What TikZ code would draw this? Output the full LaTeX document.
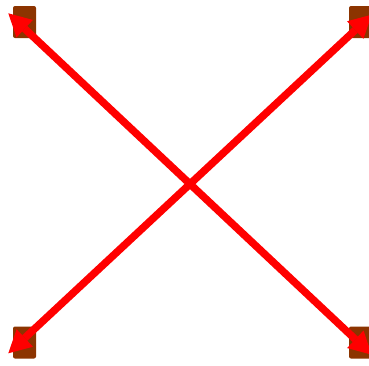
\documentclass[tikz,border=0pt]{standalone}
\usepackage{tikz}
\usetikzlibrary{arrows.meta}
\definecolor{boxbrown}{RGB}{140,52,0}

\begin{document}
\begin{tikzpicture}[x=1pt,y=-1pt,
   every node/.style={rectangle,rounded corners=2pt,fill=boxbrown,minimum width=23pt,minimum height=32pt,inner sep=0pt},
   link/.style={draw=red,line width=7.5pt,{Triangle[length=22.5pt,width=24pt,line width=0pt]}-{Triangle[length=22.5pt,width=24pt,line width=0pt]}}]
   \useasboundingbox (0,0) rectangle (369,365);
   \node (tl) at (24.5,22) {};
   \node (tr) at (360.5,22) {};
   \node (bl) at (24.5,342.5) {};
   \node (br) at (360.5,342.5) {};
   % arrow ends, just past the boxes
   \coordinate (tltip) at (8.3,13.3);
   \coordinate (brtip) at (371.7,354.7);
   \coordinate (bltip) at (8.3,353.3);
   \coordinate (trtip) at (371.7,14.7);
   \draw[link] (brtip) -- (tltip);
   \draw[link] (bltip) -- (trtip);
\end{tikzpicture}
\end{document}
